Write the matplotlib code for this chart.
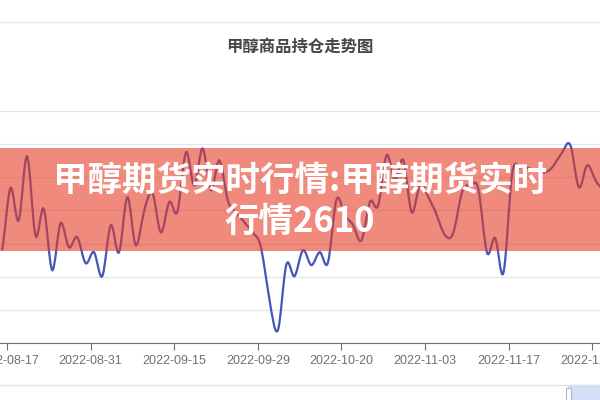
import numpy as np
import matplotlib.pyplot as plt
from matplotlib.path import Path
from matplotlib.patches import PathPatch, Rectangle
from matplotlib.lines import Line2D

plt.rcParams['font.family'] = ['Noto Sans CJK SC', 'DejaVu Sans']

# open interest (arbitrary units, grid step 10), one value per trading day
oi = [28.0, 46.7, 37.0, 56.3, 32.5, 40.4, 22.0, 36.1, 28.9, 31.9,
      24.1, 27.4, 20.2, 35.5, 27.4, 44.0, 29.5, 39.8, 45.2, 33.4,
      42.5, 39.8, 57.5, 47.6, 58.7, 46.1, 55.1, 43.1, 39.5, 36.4,
      33.4, 28.6, 13.0, 3.9, 23.5, 20.2, 28.0, 23.5, 27.4, 24.4,
      43.1, 38.6, 35.5, 31.0, 42.5, 41.6, 56.6, 49.1, 55.1, 39.5,
      47.6, 44.0, 38.6, 32.5, 33.4, 45.2, 47.6, 46.1, 27.4, 31.6,
      21.4, 50.6, 53.0, 52.7, 52.1, 51.5, 53.6, 57.5, 59.6, 47.0,
      53.6, 49.1, 46.1]
tick_labels = ['2022-08-17', '2022-08-31', '2022-09-15', '2022-09-29',
               '2022-10-20', '2022-11-03', '2022-11-17', '2022-12-01']

title = '甲醇商品持仓走势图'
banner = '甲醇期货实时行情:甲醇期货实时\n行情2610'


def smooth_path(x, y, t=0.4):
    # cubic bezier through every point (cardinal spline style)
    x = np.asarray(x, float)
    y = np.asarray(y, float)
    verts = [(x[0], y[0])]
    codes = [Path.MOVETO]
    n = len(x)
    for i in range(n - 1):
        i0 = max(i - 1, 0)
        i3 = min(i + 2, n - 1)
        c1 = (x[i] + (x[i + 1] - x[i]) / 3, y[i] + t * (y[i + 1] - y[i0]) / 2)
        c2 = (x[i + 1] - (x[i + 1] - x[i]) / 3, y[i + 1] - t * (y[i3] - y[i]) / 2)
        verts += [c1, c2, (x[i + 1], y[i + 1])]
        codes += [Path.CURVE4] * 3
    return Path(verts, codes)


fig = plt.figure(figsize=(6, 4), dpi=100)
ax = fig.add_axes([0, 57 / 400, 1, 232 / 400])

xs = np.arange(len(oi))
ax.add_patch(PathPatch(smooth_path(xs, oi), fill=False, edgecolor='#4257b8',
                       lw=1.6, zorder=3))

ax.set_xlim(-2 / 8.36, 598 / 8.36)
ax.set_ylim(0, 70)
ax.set_yticks(range(0, 71, 10))
ax.set_yticklabels([])
ax.tick_params(axis='y', length=0)
ax.yaxis.grid(True, color='#e0e6f1', lw=1)
ax.set_axisbelow(True)
for s in ['top', 'left', 'right']:
    ax.spines[s].set_visible(False)
ax.spines['bottom'].set_color('#6e7079')

ax.set_xticks(np.arange(len(tick_labels)) * 10 + 0.6)
ax.set_xticklabels(tick_labels, family='Liberation Sans', fontsize=9,
                   color='#6e7079')
ax.tick_params(axis='x', length=5, color='#6e7079', pad=4)

# frame line and title
fig.add_artist(Line2D([0, 1], [1 - 22 / 400] * 2, color='#e6e6e6', lw=1))
fig.text(0.5, 1 - 47 / 400, title, ha='center', va='center', fontsize=11.8,
         fontweight='bold', color='#464646')

# data zoom strip at the bottom
fig.add_artist(Line2D([0, 1], [1 - 385 / 400] * 2, color='#dbe2ef', lw=1))
fig.add_artist(Rectangle((568 / 600, 0), 32 / 600, 15 / 400,
                         transform=fig.transFigure, color='#b9ccf3', alpha=0.6))
fig.add_artist(Rectangle((566 / 600, 0), 5 / 600, 12 / 400,
                         transform=fig.transFigure, facecolor='white',
                         edgecolor='#a7b7cc', lw=0.8))

# red banner overlay
fig.add_artist(Rectangle((0, 1 - 251 / 400), 1, 103 / 400,
                         transform=fig.transFigure, color='#e63c25',
                         alpha=0.6, lw=0))
fig.text(0.5, 1 - 201 / 400, banner, ha='center', va='center', fontsize=24.8,
         fontweight='heavy', color='white', linespacing=1.22)

fig.savefig('out.png', dpi=100)
